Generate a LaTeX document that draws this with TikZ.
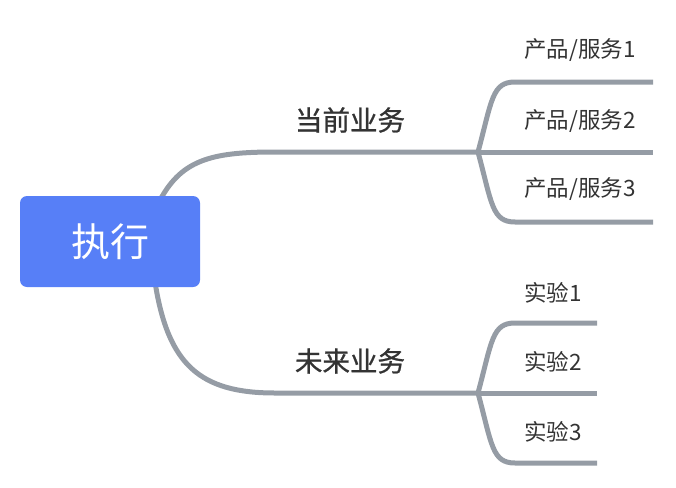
\documentclass[tikz,border=0pt]{standalone}
\usepackage{fontspec}
\setmainfont{Noto Sans CJK SC}
\newfontfamily\medfont[FakeBold=0.9]{Noto Sans CJK SC}
\definecolor{rootblue}{HTML}{577FF7}
\definecolor{branchgray}{HTML}{959CA5}
\definecolor{txtgray}{HTML}{333333}
\begin{document}
\begin{tikzpicture}[x=1pt,y=-1pt,
  branch/.style={draw=branchgray,line width=5pt},
  rootbox/.style={fill=rootblue,rounded corners=7pt,minimum width=180pt,minimum height=91pt,inner sep=0pt,text=white,font=\fontsize{39}{41}\selectfont},
  mainlabel/.style={inner sep=0pt,text=txtgray,font=\medfont\fontsize{27.5}{30}\selectfont},
  leaflabel/.style={inner sep=0pt,anchor=west,text=txtgray,font=\fontsize{22.5}{25}\selectfont}]
\useasboundingbox (0,0) rectangle (676,487);
% coordinates
\coordinate (r1) at (158,204);
\coordinate (r2) at (155,282);
\coordinate (s1) at (478,152);
\coordinate (s2) at (478,393);
\coordinate (e11) at (653,82);
\coordinate (e12) at (653,152);
\coordinate (e13) at (653,222);
\coordinate (e21) at (597,323);
\coordinate (e22) at (597,393);
\coordinate (e23) at (597,463);
% main branches
\draw[branch] (r1) .. controls (180,160) and (210,152) .. (275,152) -- (s1);
\draw[branch] (r2) .. controls (168,365) and (200,393) .. (275,393) -- (s2);
% sub branches
\draw[branch] (s1) .. controls (492,100) and (492,82) .. (515,82) -- (e11);
\draw[branch] (s1) -- (e12);
\draw[branch] (s1) .. controls (492,204) and (492,222) .. (515,222) -- (e13);
\draw[branch] (s2) .. controls (492,341) and (492,323) .. (515,323) -- (e21);
\draw[branch] (s2) -- (e22);
\draw[branch] (s2) .. controls (492,445) and (492,463) .. (515,463) -- (e23);
% root
\node[rootbox] (root) at (110,241.5) {执行};
% labels
\node[mainlabel] (cur) at (350,120) {当前业务};
\node[mainlabel] (fut) at (350,361) {未来业务};
\node[leaflabel] (p1) at (524,50) {产品/服务1};
\node[leaflabel] (p2) at (524,121) {产品/服务2};
\node[leaflabel] (p3) at (524,189) {产品/服务3};
\node[leaflabel] (x1) at (524,293) {实验1};
\node[leaflabel] (x2) at (524,362) {实验2};
\node[leaflabel] (x3) at (524,432) {实验3};
\end{tikzpicture}
\end{document}
